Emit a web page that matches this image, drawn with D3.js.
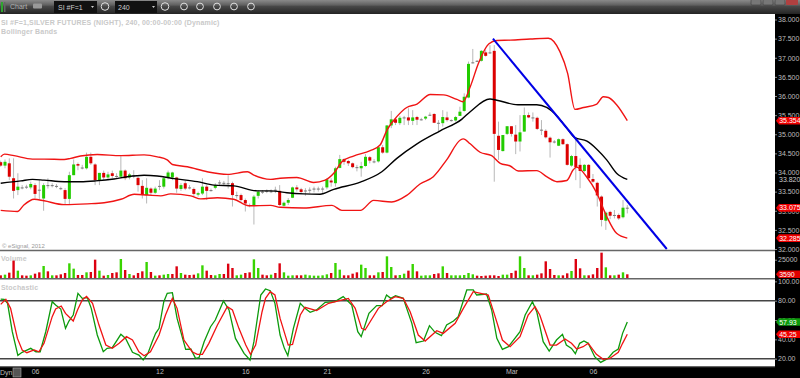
<!DOCTYPE html>
<html>
<head>
<meta charset="utf-8">
<script src="https://cdn.jsdelivr.net/npm/d3@7"></script>
<style>
html, body { margin: 0; padding: 0; background: #fff; overflow: hidden; }
text { font-family: "Liberation Sans", Arial, sans-serif; }
</style>
</head>
<body>
<svg id="chart" width="800" height="378"></svg>
<script>
// candles, one per 240 min bar
var open = [34.27,34.18,34.24,33.85,33.54,33.61,33.63,33.61,33.67,33.55,33.32,33.67,33.67,33.65,33.59,33.54,33.31,33.93,34.22,34.13,34.11,34.41,34.21,33.80,33.99,33.87,33.98,33.91,33.89,34.05,33.87,33.92,33.86,33.65,33.41,33.58,33.47,33.65,33.63,33.86,33.87,33.87,33.57,33.72,33.61,33.57,33.42,33.45,33.63,33.54,33.60,33.74,33.73,33.72,33.72,33.41,33.41,33.28,33.15,33.13,33.39,33.50,33.52,
33.51,33.55,33.52,33.13,33.21,33.34,33.61,33.56,33.53,33.55,33.58,33.58,33.58,33.61,33.79,33.72,34.12,34.35,34.30,34.24,34.14,34.11,34.17,34.40,34.29,34.29,34.66,34.52,35.23,35.39,35.29,35.44,35.44,35.35,35.45,35.39,35.41,35.51,35.53,35.30,35.29,35.44,35.37,35.36,35.48,35.61,35.96,36.88,36.92,36.92,37.14,37.14,
37.18,34.96,34.56,35.01,35.21,34.99,34.81,35.07,35.50,35.44,35.43,35.12,35.09,34.91,34.81,34.70,34.87,34.74,34.18,34.43,34.20,34.04,34.20,33.83,33.73,33.37,32.74,32.97,32.89,32.89,32.83,33.08];
var close = [34.18,34.28,33.89,33.52,33.63,33.60,33.62,33.70,33.44,33.54,33.67,33.66,33.66,33.64,33.58,33.31,33.93,34.21,34.18,34.12,34.41,34.24,33.80,33.99,33.87,33.95,33.91,33.90,34.05,33.85,33.95,33.91,33.67,33.41,33.60,33.47,33.58,33.64,33.85,34.00,34.00,33.58,33.67,33.58,33.60,33.44,33.46,33.63,33.52,33.53,33.67,33.73,33.72,33.71,33.41,33.40,33.28,33.19,33.14,33.37,33.50,33.49,33.51,
33.50,33.54,33.15,33.21,33.28,33.61,33.56,33.49,33.52,33.54,33.57,33.57,33.57,33.82,33.74,34.11,34.35,34.28,34.24,34.14,34.13,34.17,34.41,34.31,34.28,34.66,34.52,35.23,35.39,35.30,35.43,35.43,35.36,35.44,35.38,35.38,35.46,35.50,35.30,35.29,35.45,35.37,35.36,35.45,35.59,35.98,36.84,36.87,36.91,37.18,37.05,37.13,
35.01,34.59,34.98,35.21,35.01,34.81,35.05,35.50,35.44,35.43,35.14,35.11,34.92,34.79,34.80,34.87,34.74,34.20,34.43,34.14,34.04,34.20,33.85,33.76,33.40,32.76,32.95,32.87,32.88,32.80,33.08,33.075];
var high = [34.31,34.34,34.37,34.37,33.98,33.67,33.68,33.76,33.72,33.80,33.72,33.85,33.72,33.70,33.63,33.59,34.02,34.34,34.26,34.20,34.52,34.52,34.24,33.99,34.05,34.02,34.05,33.98,34.43,34.08,33.99,34.06,33.89,33.80,33.85,33.61,33.63,33.80,33.89,34.05,34.02,33.89,33.72,33.79,33.67,33.61,33.50,33.85,33.67,33.58,33.72,33.80,33.78,33.93,33.76,33.50,33.45,33.32,33.19,33.41,33.54,33.54,33.56,
33.56,33.63,33.67,33.24,33.33,33.63,33.67,33.60,33.59,33.61,33.63,33.63,33.63,33.85,33.85,34.15,34.46,34.37,34.33,34.26,34.20,34.28,34.48,34.43,34.35,34.68,34.72,35.24,35.61,35.42,35.48,35.48,35.68,35.63,35.48,35.43,35.48,35.57,35.55,35.37,35.63,35.59,35.39,35.48,35.72,36.07,36.90,37.23,36.94,37.20,37.20,37.33,
37.33,35.33,34.98,35.21,35.21,35.24,35.50,35.70,35.57,35.57,35.46,35.37,35.13,34.94,34.85,34.89,34.89,34.76,34.46,34.89,34.37,34.22,34.22,33.96,33.76,33.40,32.98,33.00,33.02,32.93,33.28,33.15];
var low = [34.15,34.11,33.80,33.32,33.41,33.56,33.57,33.56,33.32,33.28,33.00,33.58,33.61,33.59,33.54,33.15,33.15,33.93,34.06,34.08,34.08,34.20,33.67,33.67,33.80,33.80,33.85,33.85,33.85,33.80,33.82,33.85,33.50,33.32,33.19,33.41,33.44,33.54,33.58,33.82,33.80,33.47,33.52,33.54,33.56,33.37,33.37,33.41,33.28,33.50,33.56,33.67,33.67,33.58,33.11,33.32,33.24,32.98,33.09,32.64,33.32,33.44,33.46,
33.46,33.46,33.13,33.11,33.15,33.33,33.50,33.44,33.39,33.46,33.48,33.50,33.46,33.56,33.63,33.63,34.11,34.20,34.17,34.11,34.03,33.89,34.15,34.24,34.24,34.26,34.49,34.50,35.16,35.24,35.24,35.24,35.24,35.24,35.24,35.36,35.37,35.48,35.29,35.07,35.20,35.33,35.33,35.33,35.48,35.59,35.94,36.85,36.89,36.90,37.03,37.10,
33.76,34.33,34.55,34.98,34.94,34.48,34.55,35.07,35.42,35.33,35.11,34.98,34.89,34.39,34.76,34.69,34.72,34.18,34.15,33.80,33.59,34.01,33.82,33.73,33.11,32.59,32.50,32.78,32.80,32.76,32.80,32.93];

var volume = [2080,3060,6000,23600,8925,2080,1590,2080,4520,6480,15770,7950,2080,2080,3545,5500,19680,11860,2570,2570,6480,6970,25060,8925,1590,2570,5500,6480,26040,9900,4035,2080,5500,7950,21640,6970,1590,2080,3060,4035,4035,15280,5500,3060,2570,3060,5010,16750,8925,2570,2080,4035,4035,19190,12840,2080,3060,5500,6480,25550,12840,3060,2080,
3060,5500,19680,6480,1590,2080,2080,2080,3060,2080,1590,1590,2080,3545,5500,20170,10390,2080,2080,4520,6480,17730,12840,2080,2080,6480,6970,29950,14300,2080,2570,4520,8925,18700,7950,1590,2080,2080,4035,5010,15280,5500,2080,2080,2080,2570,5500,3545,1590,1100,1590,2080,2080,1100,3060,3060,5500,8925,29950,12840,2080,
2080,3060,5010,22620,11370,2570,2080,2080,5010,8435,26040,12350,2080,2080,3545,12840,35330,13810,2080,2080,3060,6480,3590];
var volumeUp = [0,1,0,0,1,0,0,1,0,0,1,0,1,0,0,0,1,1,0,0,1,0,0,1,0,1,0,0,1,0,1,0,0,0,1,0,1,0,1,1,0,0,1,0,0,0,1,1,0,0,1,1,0,0,0,1,1,0,0,1,1,0,0,
1,0,0,1,1,1,0,0,1,1,1,1,1,1,0,1,1,0,0,0,0,1,1,0,0,1,0,1,1,0,1,1,0,1,0,1,1,1,0,0,1,0,1,1,1,1,1,1,0,0,0,0,0,0,1,1,0,0,1,1,0,
1,0,0,0,0,0,1,0,0,1,0,0,1,0,0,0,0,1,0,1,0,1,0];

// bollinger bands as [bar, price]
var upperBand = [[0,34.41],[.9,34.48],[3.1,34.44],[7.4,34.35],[10.1,34.35],[14.8,34.34],[16.3,34.37],[18.6,34.43],[22.5,34.47],[28,34.44],[33.4,34.46],[36.5,34.41],[38.8,34.33],[40,34.21],[43.5,34.15],[48.1,34.02],[52.8,33.95],[57.5,34.02],[59,33.93],[62.9,33.82],[65.1,33.85],[69,33.87],[72.9,33.74],[75.6,33.80],[77.6,33.98],[79.5,34.28],[82.2,34.43],[86.1,34.57],[88.4,34.72],[90,35.11],[92.3,35.46],[94.6,35.70],[97,35.79],[100.1,36.04],[103.2,36.03],[106.3,35.91],[107.7,35.85],[109.4,36.24],[111.3,36.85],[113.7,37.36],[115.6,37.45],[118.7,37.46],[123.4,37.49],[127.6,37.51],[130.3,37.16],[132.1,36.59],[133.8,35.65],[135.8,35.70],[138.9,35.79],[140.4,35.98],[141.6,35.96],[143.5,35.77],[146,35.354]];
var middleBand = [[0,33.72],[4.7,33.78],[7.4,33.82],[10.1,33.80],[14.8,33.76],[18.6,33.76],[22.1,33.78],[26.4,33.83],[29.5,33.89],[33.4,33.93],[36.5,33.91],[40.4,33.84],[45.8,33.76],[49.7,33.67],[54.3,33.65],[59.8,33.52],[62.9,33.52],[66.7,33.47],[70.6,33.44],[74.4,33.43],[77.6,33.56],[83.8,33.75],[88.8,34.02],[92.3,34.37],[97,34.75],[102.4,35.09],[107.4,35.39],[109.4,35.59],[114,35.92],[115.6,35.89],[120.5,35.77],[124.9,35.77],[127.2,35.70],[129.6,35.48],[131.9,35.16],[133.8,34.91],[136.6,34.82],[138.9,34.61],[141.2,34.33],[143.5,33.98],[146,33.82]];
var lowerBand = [[0,33.01],[3.9,32.98],[5.4,33.15],[7.8,33.30],[10.1,33.26],[14.8,33.16],[20.2,33.18],[24.1,33.21],[28,33.30],[31.1,33.43],[34.2,33.41],[37.3,33.39],[39.6,33.44],[44.3,33.39],[46.6,33.31],[50.5,33.34],[54.3,33.30],[57.8,33.13],[62.9,33.14],[65.1,33.09],[70.6,33.07],[77.2,33.14],[79.5,33.01],[83.8,33.01],[86.9,33.27],[91.1,33.23],[94.6,33.40],[97.7,33.70],[100.8,33.89],[103.9,34.33],[107.1,34.85],[107.8,34.88],[109.4,34.75],[111.7,34.53],[114.4,34.44],[116.4,34.24],[118.7,34.17],[120.6,34.04],[124.9,34.05],[127.2,33.89],[129.6,33.76],[131.9,33.79],[133.4,34.07],[134.2,34.14],[136.5,33.89],[138.9,33.46],[141.2,32.85],[143.5,32.41],[146,32.285]];
var trendLine = [[114.7,37.5],[155.2,32]];

// stochastic as [bar, value]
var stochK = [[0,81.7],[.8,81.4],[1.6,77.3],[2.7,47.9],[4,23.5],[5,26.6],[7,30.7],[8.2,27.2],[9.2,27.2],[10.5,47.9],[12,79],[12.8,75.5],[14,71.4],[15.1,51.4],[15.9,59],[16.9,65.2],[18,87.6],[19,82.4],[20.2,83.1],[21.1,72.1],[22.5,44.5],[23.9,27.2],[24.8,30.7],[26,31.4],[28,45.2],[29.1,41],[30.7,26.6],[32.2,23.8],[33.2,18.6],[34.3,25.5],[35.3,37.6],[36.1,46.2],[36.9,51.4],[38,79],[38.8,87.6],[40,88.3],[41.1,61.7],[43.1,29.7],[44.3,30],[45.4,20.3],[46.2,21],[47.4,37.6],[48.9,53.1],[50,60],[51.9,79.7],[53.2,70.4],[54.7,41],[56.7,25.5],[58.1,18.6],[59,37.6],[60.6,85.9],[61.7,92.1],[62.8,90.4],[63.9,77.3],[65.1,44.5],[66.1,30.7],[66.9,23.1],[68.2,51.4],[69.8,77.3],[70.9,72.1],[72.1,68],[73.6,70.4],[75.6,78.3],[77.9,79],[79.8,84.2],[81.8,75.5],[83.2,47.9],[84,42.8],[85.8,66.9],[87.6,74.9],[88.9,74.9],[89.9,85.9],[90.9,82.4],[92,85.2],[93.8,82.4],[95.8,56.6],[96.8,36.6],[98.5,38.3],[99.9,54.2],[101.2,47.3],[102.7,43.8],[103.9,54.8],[105.5,59],[106.6,63.5],[108.6,91.1],[110.1,91.1],[110.9,85.9],[113.2,86.9],[114.4,70.4],[115.6,41],[116.9,29.7],[118.3,32.4],[121,47.9],[122.2,65.2],[123.9,79],[124.9,68.6],[126.4,37.6],[127.8,27.9],[129.5,39.3],[130.9,45.2],[131.8,34.1],[133,30.7],[133.9,25.2],[134.9,35.9],[135.9,38.3],[136.9,35.9],[138.4,22.1],[139.8,16.2],[141.5,20.3],[142.7,26.6],[143.9,30],[144.9,46.2],[146,57.93]];
var stochD = [[0,76.2],[1.2,81.4],[2.3,72.1],[3.9,41],[5,29],[6.1,26.2],[7.8,29],[8.9,27.2],[10.1,35.9],[12,63.5],[12.8,71.4],[14.1,74.5],[15.1,66.9],[16.9,59],[17.9,70.4],[19,80.7],[20,84.5],[21.4,77.3],[22.9,54.8],[24.5,34.1],[26,30.7],[27.6,35.9],[29.3,42.8],[30.7,39.3],[32.2,27.2],[33.4,23.1],[34.9,27.2],[36.9,44.5],[38.4,65.2],[40,82.4],[41.1,72.1],[42.7,39.3],[44.6,27.2],[45.8,24.5],[47,24.5],[48.5,35.9],[50.5,54.8],[52.8,73.8],[54,70.4],[55.5,51.4],[57.1,34.1],[58.2,24.5],[59.4,34.1],[60.9,68.6],[61.7,82.4],[62.8,89.3],[63.9,85.9],[65.1,61.7],[67,34.1],[68,34.8],[69.8,65.2],[70.9,73.1],[73.6,69.7],[76.4,77.3],[78.7,79.7],[81,82.4],[82.6,72.1],[84.1,51.4],[84.9,49.7],[88,72.1],[89.9,79],[91.9,84.2],[93.8,82.4],[95.4,68.6],[97.3,44.5],[98.9,38.3],[101.6,49],[103.1,46.2],[105.9,56.6],[107.8,72.1],[110.1,89.3],[113.6,85.9],[115.2,63.5],[116.9,39.3],[118.7,32.4],[121,42.8],[122.9,65.2],[124.5,73.8],[125.6,65.2],[128,34.1],[129.5,34.1],[131.5,40.4],[133,35.9],[134.2,30],[135.7,32.4],[136.9,35.9],[138.8,24.5],[140.4,19.3],[141.9,20.3],[143.9,26.6],[144.9,35.9],[146,45.25]];

var priceTicks = [32,32.5,33,33.5,34,34.5,35,35.5,36,36.5,37,37.5,38];
var stochTicks = [20,40,60,80,100];
var dateBars = [8,37,57,76,99,119,138];
var dateLabels = ["06","12","16","21","26","Mar","06"];

var x = d3.scaleLinear().domain([0,146]).range([0.7,627.3]);
var yPrice = d3.scaleLinear().domain([32,38]).range([249,19.5]);
var yVol = d3.scaleLinear().domain([3590,25000]).range([274.3,259.7]);
var yStoch = d3.scaleLinear().domain([20,80]).range([358.7,300.7]);
var plotRight = 775, volBase = 278;

var svg = d3.select("#chart");
var green = "#22cc00", red = "#dc0000";

var defs = svg.append("defs");
var grad = defs.append("linearGradient").attr("id","bar").attr("x1",0).attr("x2",0).attr("y1",0).attr("y2",1);
grad.append("stop").attr("offset",0).attr("stop-color","#8a8a8a");
grad.append("stop").attr("offset",.38).attr("stop-color","#5e5e5e");
grad.append("stop").attr("offset",.42).attr("stop-color","#4a4a4a");
grad.append("stop").attr("offset",1).attr("stop-color","#242424");
defs.append("clipPath").attr("id","main").append("rect").attr("x",0).attr("y",15).attr("width",plotRight).attr("height",235);

// right scale and bottom strip
svg.append("rect").attr("x",plotRight).attr("y",14).attr("width",25).attr("height",364).attr("fill","#000");
svg.append("rect").attr("x",0).attr("y",367).attr("width",800).attr("height",11).attr("fill","#000");

// pane titles
var paneText = [["SI #F=1,SILVER FUTURES (NIGHT), 240, 00:00-00:00 (Dynamic)",1,25],["Bollinger Bands",1,34],["Volume",1,261],["Stochastic",1,290]];
svg.selectAll("text.pane").data(paneText).enter().append("text").attr("class","pane")
  .attr("x",d => d[1]).attr("y",d => d[2]).attr("fill","#c9c9c9")
  .attr("font-size",7).attr("font-weight","bold").attr("letter-spacing",.18).text(d => d[0]);
svg.append("text").attr("x",2).attr("y",248).attr("fill","#999").attr("font-size",6).text("\u00a9 eSignal, 2012");

// candles
var main = svg.append("g").attr("clip-path","url(#main)");
var bars = d3.range(open.length);
main.selectAll("line.wick").data(bars).enter().append("line").attr("class","wick")
  .attr("x1",i => x(i)).attr("x2",i => x(i)).attr("y1",i => yPrice(high[i])).attr("y2",i => yPrice(low[i]))
  .attr("stroke","#b8b8b8").attr("stroke-width",1);
main.selectAll("rect.body").data(bars).enter().append("rect").attr("class","body")
  .attr("x",i => x(i)-1.5).attr("width",3)
  .attr("y",i => yPrice(Math.max(open[i],close[i])))
  .attr("height",i => Math.max(1,Math.abs(yPrice(open[i])-yPrice(close[i]))))
  .attr("fill",i => Math.abs(open[i]-close[i])<.015 ? "#777" : (close[i]>open[i] ? green : red));

var priceLine = d3.line().x(d => x(d[0])).y(d => yPrice(d[1])).curve(d3.curveMonotoneX);
[upperBand,lowerBand].forEach(function(b) {
  main.append("path").attr("d",priceLine(b)).attr("fill","none").attr("stroke","#f01414").attr("stroke-width",1.4);
});
main.append("path").attr("d",priceLine(middleBand)).attr("fill","none").attr("stroke","#000").attr("stroke-width",1.4);
main.append("path").attr("d",d3.line().x(d => x(d[0])).y(d => yPrice(d[1]))(trendLine)).attr("fill","none").attr("stroke","#0000e6").attr("stroke-width",2);

// volume
svg.selectAll("rect.vol").data(bars).enter().append("rect").attr("class","vol")
  .attr("x",i => x(i)-1.2).attr("width",2.4)
  .attr("y",i => yVol(volume[i])).attr("height",i => volBase-yVol(volume[i]))
  .attr("fill",i => volumeUp[i] ? "#38d400" : "#dc0010");

// stochastic
var stochLine = d3.line().x(d => x(d[0])).y(d => yStoch(d[1]));
[80,20].forEach(function(v) {
  svg.append("line").attr("x1",0).attr("x2",plotRight).attr("y1",yStoch(v)).attr("y2",yStoch(v))
    .attr("stroke","#444").attr("stroke-width",1.6);
});
svg.append("path").attr("d",stochLine(stochK)).attr("fill","none").attr("stroke","#0c9a0c").attr("stroke-width",1.3);
svg.append("path").attr("d",stochLine(stochD)).attr("fill","none").attr("stroke","#f01414").attr("stroke-width",1.3);

// pane separators
[250.5,278.8,366.6].forEach(function(yy) {
  svg.append("line").attr("x1",0).attr("x2",plotRight).attr("y1",yy).attr("y2",yy).attr("stroke","#666").attr("stroke-width",1.4);
});

// axes
function styleAxis(g) {
  g.select(".domain").remove();
  g.selectAll(".tick line").attr("stroke","#888");
  g.selectAll(".tick text").attr("fill","#bdbdbd").attr("font-size",7).attr("font-family","Liberation Sans");
}
svg.append("g").attr("transform","translate("+plotRight+",0)")
  .call(d3.axisRight(yPrice).tickValues(priceTicks).tickFormat(d3.format(".3f")).tickSize(2).tickPadding(1)).call(styleAxis);
svg.append("g").attr("transform","translate("+plotRight+",0)")
  .call(d3.axisRight(yVol).tickValues([25000]).tickFormat(d3.format("d")).tickSize(2).tickPadding(1)).call(styleAxis);
svg.append("g").attr("transform","translate("+plotRight+",0)")
  .call(d3.axisRight(yStoch).tickValues(stochTicks).tickFormat(d3.format(".2f")).tickSize(2).tickPadding(1)).call(styleAxis);
svg.append("g").attr("transform","translate(0,367)")
  .call(d3.axisBottom(x).tickValues(dateBars).tickFormat((d,i) => dateLabels[i]).tickSize(0).tickPadding(2)).call(styleAxis);

svg.append("text").attr("x",779).attr("y",yPrice(33.82)+2.4).attr("fill","#ccc").attr("font-size",7).text("33.820");

// last value flags
var flags = [["35.354",yPrice(35.354),"#f00000"],["33.075",yPrice(33.075),"#f00000"],["32.285",yPrice(32.285),"#f00000"],["3590",yVol(3590),"#e00000"],["57.93",yStoch(57.93),"#0c9a0c"],["45.25",yStoch(45.25),"#f00000"]];
var flag = svg.selectAll("g.flag").data(flags).enter().append("g").attr("class","flag")
  .attr("transform",d => "translate(776,"+d[1]+")");
flag.append("path").attr("d","M0,0L3,-3.8H24V3.8H3Z").attr("fill",d => d[2]);
flag.append("text").attr("x",3.2).attr("y",2.5).attr("fill","#fff").attr("font-size",7).text(d => d[0]);

// bottom left button
svg.append("text").attr("x",0).attr("y",375).attr("fill","#bbb").attr("font-size",7).text("Dyn");
svg.append("rect").attr("x",13).attr("y",368).attr("width",8).attr("height",9).attr("fill","#555").attr("stroke","#aaa").attr("stroke-width",.6);

// toolbar
svg.append("rect").attr("width",800).attr("height",14).attr("fill","url(#bar)");
svg.append("rect").attr("x",1).attr("y",2).attr("width",2).attr("height",10).attr("fill","#2fa52f");
svg.append("rect").attr("x",4).attr("y",2).attr("width",1.5).attr("height",10).attr("fill","#666");
svg.append("text").attr("x",10).attr("y",9).attr("fill","#b0b0b0").attr("font-size",7).text("Chart");
svg.append("rect").attr("x",33).attr("y",3.5).attr("width",9).attr("height",5).attr("rx",1).attr("fill","#999");
[[54,43],[115,42]].forEach(function(b) {
  svg.append("rect").attr("x",b[0]).attr("y",1).attr("width",b[1]).attr("height",12).attr("fill","#111");
  svg.append("path").attr("d","M"+(b[0]+37)+",6h3l-1.5,2z").attr("fill","#ccc");
});
svg.append("text").attr("x",58).attr("y",9.5).attr("fill","#ccc").attr("font-size",7).text("SI #F=1");
svg.append("text").attr("x",118).attr("y",9.5).attr("fill","#ccc").attr("font-size",7).text("240");
[105,165,184,200,217,234,251].forEach(function(cx,i) {
  svg.append("circle").attr("cx",cx).attr("cy",6.5).attr("r",i<2 ? 3.8 : 3.4).attr("fill","none").attr("stroke","#e0e0e0").attr("stroke-width",1);
});
[751,763,775].forEach(function(bx) {
  svg.append("rect").attr("x",bx).attr("y",-2).attr("width",10).attr("height",7).attr("rx",1).attr("fill","#777").attr("stroke","#333").attr("stroke-width",.5);
});
svg.append("rect").attr("x",786).attr("y",-2).attr("width",12).attr("height",7).attr("rx",1).attr("fill","#b04040");
</script>
</body>
</html>
